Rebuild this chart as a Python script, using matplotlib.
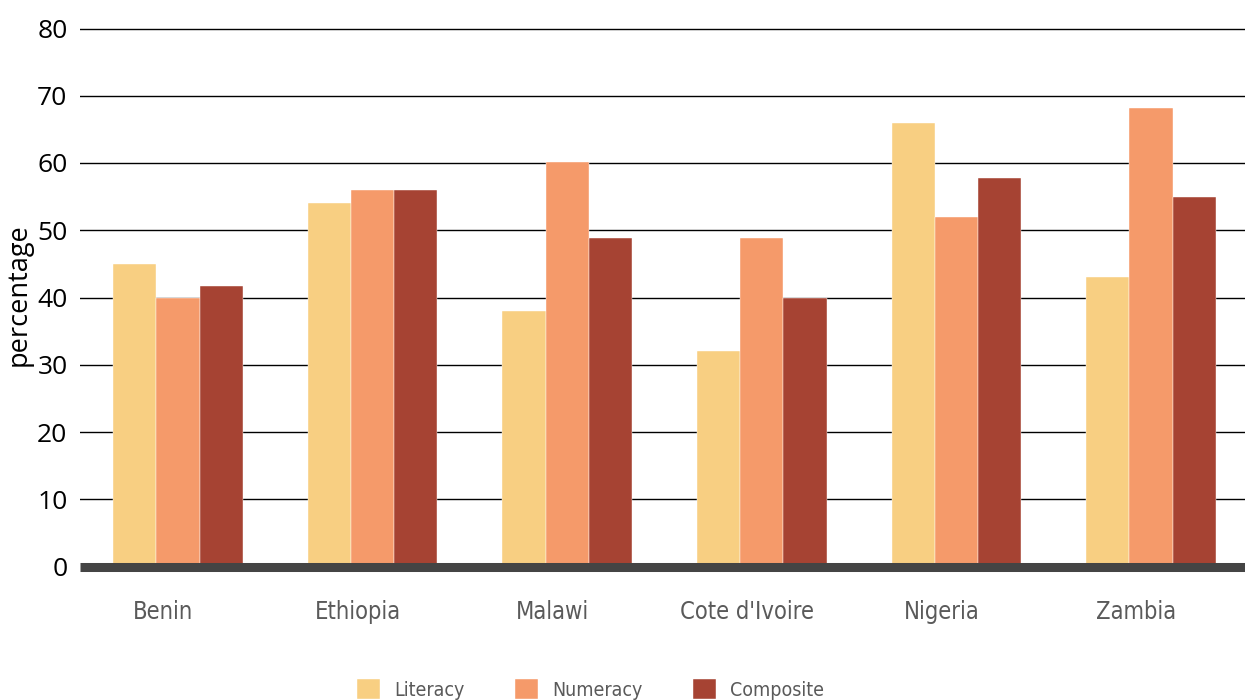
import numpy as np
import matplotlib
matplotlib.use("Agg")
import matplotlib.pyplot as plt
from matplotlib.font_manager import fontManager, FontProperties

countries = ["Benin", "Ethiopia", "Malawi", "Cote d'Ivoire", "Nigeria", "Zambia"]
literacy = [45, 54, 38, 32, 66, 43]
numeracy = [40, 56, 60.2, 48.8, 52, 68.2]
composite = [41.7, 56, 48.8, 40, 57.8, 55]
series_names = ["Literacy", "Numeracy", "Composite"]
y_ticks = [0, 10, 20, 30, 40, 50, 60, 70, 80]

colors = ["#F8CF82", "#F59A6A", "#A64333"]

# look for a condensed face for the category labels, like the original
narrow_file = None
for f in fontManager.ttflist:
    fn = f.fname.lower()
    if ("narrow" in fn or "condensed" in fn) and "bold" not in fn and "italic" not in fn \
            and "oblique" not in fn and "light" not in fn:
        narrow_file = f.fname
        break

plt.rcParams["font.family"] = ["Open Sans", "DejaVu Sans"]

if narrow_file:
    lab_font = FontProperties(fname=narrow_file, size=17)
    leg_font = FontProperties(fname=narrow_file, size=14)
else:
    lab_font = FontProperties(family="DejaVu Sans", size=15)
    leg_font = FontProperties(family="DejaVu Sans", size=12)

W, H = 1245, 700
fig = plt.figure(figsize=(W / 100, H / 100), dpi=100)

# axes placed by pixel measurements from the reference
y0_px = 566.5
per_unit = 6.725
ytop = 81
ax = fig.add_axes([80 / W, 1 - y0_px / H, 1 - 80 / W, ytop * per_unit / H])
ax.set_ylim(0, ytop)
ax.set_xlim(-0.504, 5.483)

x = np.arange(len(countries))
bw = 0.222
for i, (vals, c, name) in enumerate(zip([literacy, numeracy, composite], colors, series_names)):
    ax.bar(x + (i - 1) * bw, vals, width=bw, color=c, label=name,
           edgecolor="white", linewidth=0.3, zorder=3)

for t in y_ticks[1:]:
    ax.axhline(t, color="black", linewidth=1.0, zorder=1)
ax.axhline(0, color="#444444", linewidth=6.5, zorder=4, clip_on=False,
           solid_capstyle="butt")

for s in ax.spines.values():
    s.set_visible(False)

ax.set_yticks(y_ticks)
ax.set_yticklabels([str(t) for t in y_ticks], fontsize=19, color="black")
ax.tick_params(axis="y", length=0, pad=9)
ax.set_xticks(x - 0.077)
ax.set_xticklabels(countries, color="#5a5a5a", fontproperties=lab_font)
ax.tick_params(axis="x", length=0, pad=24)

ax.set_ylabel("percentage", fontsize=19.5)
ax.yaxis.set_label_coords(-0.041, 0.5)

fig.legend(loc="upper left", bbox_to_anchor=(357 / W, 1 - 679 / H), ncol=3,
           frameon=False, prop=leg_font,
           handlelength=1.2, handleheight=1.2, handletextpad=0.7,
           columnspacing=2.6, borderaxespad=0, borderpad=0, labelcolor="#5a5a5a")

fig.savefig("out.png", dpi=100)
